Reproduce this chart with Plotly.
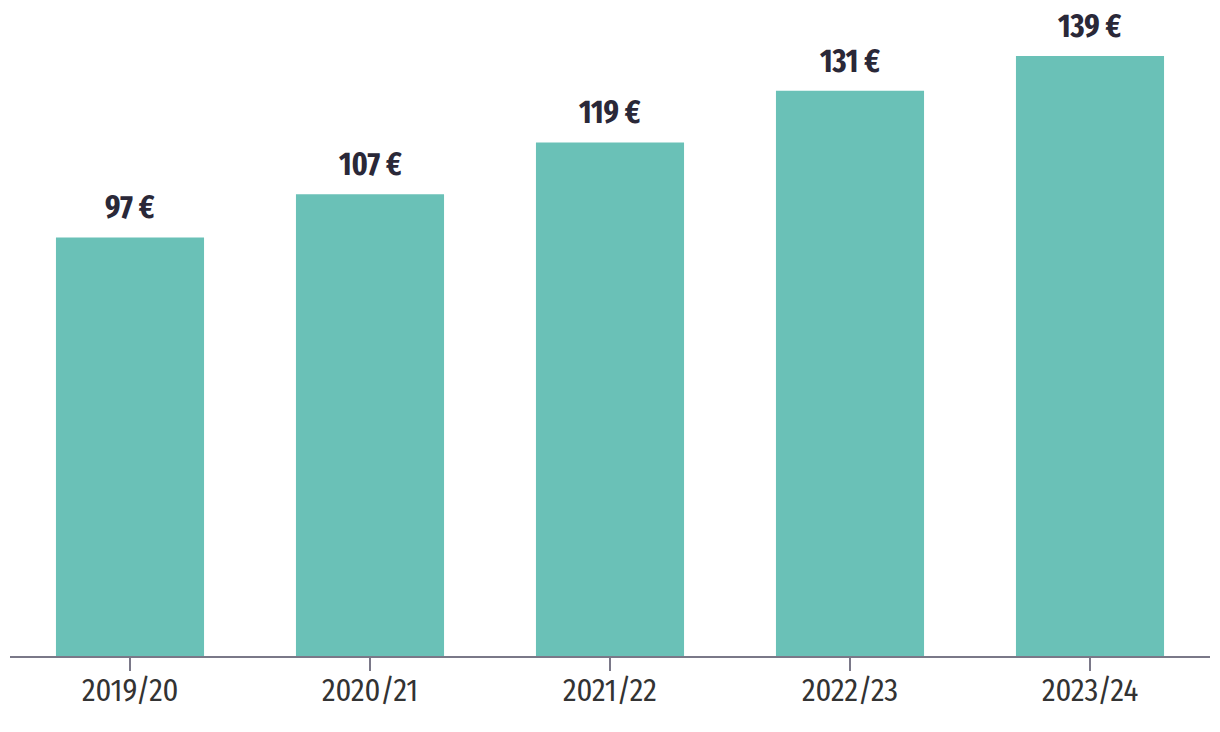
import plotly.graph_objects as go

seasons = ["2019/20", "2020/21", "2021/22", "2022/23", "2023/24"]
values = [97, 107, 119, 131, 139]
labels = ["97 €", "107 €", "119 €", "131 €", "139 €"]

fig = go.Figure()
fig.add_trace(go.Bar(
    x=seasons, y=values, marker=dict(color="#6ac1b7", line=dict(width=0)),
    hoverinfo="skip",
))
for s, v, l in zip(seasons, values, labels):
    fig.add_annotation(x=s, y=v, text="<b>" + l + "</b>", showarrow=False,
                       yanchor="bottom", yshift=9,
                       font=dict(family="Fira Sans Extra Condensed, Roboto Condensed, Noto Sans Condensed, Liberation Sans",
                                 size=32, color="#2a2838"))
# category labels under the axis
for s in seasons:
    fig.add_annotation(x=s, xref="x", y=0, yref="paper", text=s, showarrow=False,
                       yanchor="top", yshift=-14,
                       font=dict(family="Fira Sans Condensed, Roboto Condensed, Noto Sans Condensed, DejaVu Sans Condensed",
                                 size=30.5, color="#333333"))

fig.update_layout(
    width=1220, height=724,
    margin=dict(l=2, r=18, t=0, b=76),
    paper_bgcolor="white", plot_bgcolor="white",
    bargap=0.383, showlegend=False,
    xaxis=dict(range=[-0.5, 4.5], showline=True, linecolor="#7a7888", linewidth=2,
               ticks="outside", ticklen=13, tickwidth=2, tickcolor="#7a7888",
               showticklabels=False, showgrid=False, zeroline=False),
    yaxis=dict(range=[0, 150.15], visible=False, showgrid=False, zeroline=False),
)
fig.write_html("out.html")
